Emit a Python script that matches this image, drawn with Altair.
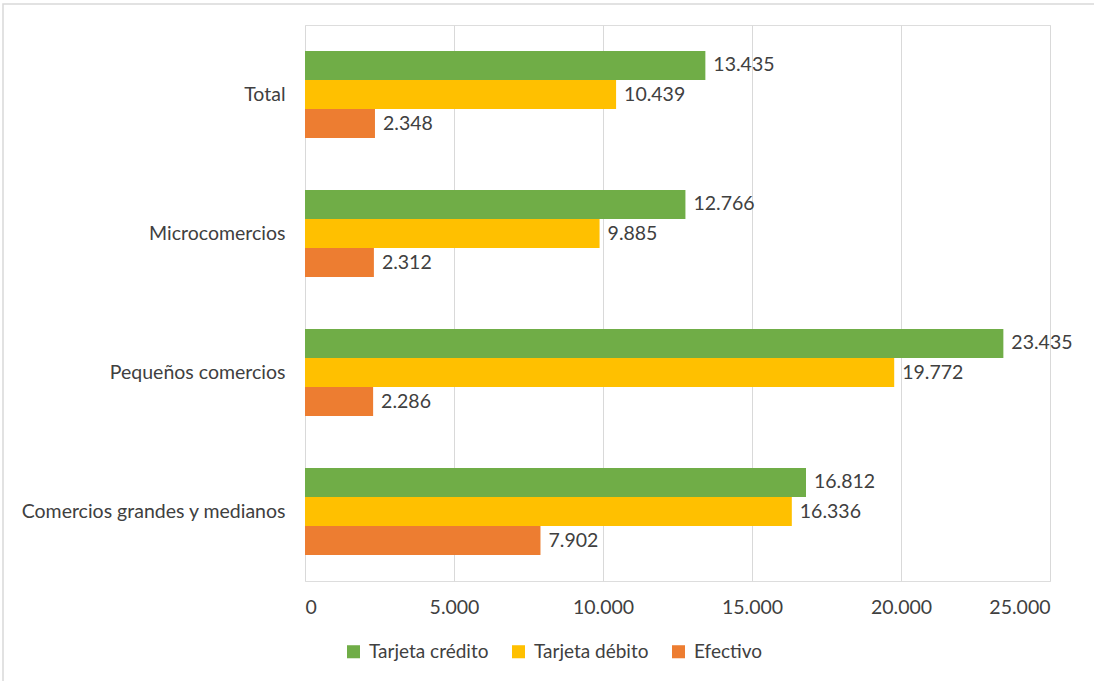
import altair as alt
import pandas as pd

categories = ["Total", "Microcomercios", "Pequeños comercios", "Comercios grandes y medianos"]
series = ["Tarjeta crédito", "Tarjeta débito", "Efectivo"]
credito = [13435, 12766, 23435, 16812]
debito = [10439, 9885, 19772, 16336]
efectivo = [2348, 2312, 2286, 7902]
colors = ["#70AD47", "#FFC000", "#ED7D31"]

rows = []
for i, c in enumerate(categories):
    for s, vals in zip(series, [credito, debito, efectivo]):
        rows.append({"cat": c, "serie": s, "valor": vals[i]})
df = pd.DataFrame(rows)

FONT = "Lato"
FS = 19.5
TXT = "#404040"

base = alt.Chart(df).encode(
    y=alt.Y("cat:N", sort=categories, title=None,
            scale=alt.Scale(paddingInner=0.374, paddingOuter=0.187),
            axis=alt.Axis(ticks=False, domain=False, labelPadding=20, labelFontSize=FS,
                          labelFont=FONT, labelColor=TXT, labelLimit=400)),
    yOffset=alt.YOffset("serie:N", sort=series, scale=alt.Scale(paddingInner=0, paddingOuter=0)),
)

bars = base.mark_bar().encode(
    x=alt.X("valor:Q", title=None, scale=alt.Scale(domain=[0, 25000], nice=False),
            axis=alt.Axis(values=[0, 5000, 10000, 15000, 20000, 25000],
                          labelExpr="replace(format(datum.value, ','), ',', '.')",
                          ticks=False, domain=False, gridColor="#D9D9D9",
                          labelPadding=17, labelFontSize=FS, labelFont=FONT, labelColor=TXT)),
    color=alt.Color("serie:N", sort=series, scale=alt.Scale(domain=series, range=colors),
                    legend=alt.Legend(title=None, orient="none", direction="horizontal",
                                      legendX=39, legendY=617, symbolType="square",
                                      symbolSize=170, symbolStrokeWidth=0, labelFontSize=19,
                                      labelFont=FONT, labelColor=TXT, columnPadding=20,
                                      labelOffset=6, labelLimit=300)),
)

labels = base.mark_text(align="left", dx=8, fontSize=FS, font=FONT, color=TXT).transform_calculate(
    lab="replace(format(datum.valor, ','), ',', '.')"
).encode(x="valor:Q", text="lab:N")

frame = alt.Chart(pd.DataFrame({"a": [0]})).mark_rect(
    fill=None, stroke="#D9D9D9", strokeWidth=1.5, clip=False
).encode(x=alt.value(-302), x2=alt.value(800), y=alt.value(-21), y2=alt.value(670))

chart = alt.layer(bars, labels, frame).properties(
    width=745, height=556, autosize="none",
    padding={"left": 305, "top": 25, "right": 44, "bottom": 100},
).configure_view(stroke=None).configure(background="white")

chart.save("out.html", embed_options={"renderer": "svg", "actions": False})
